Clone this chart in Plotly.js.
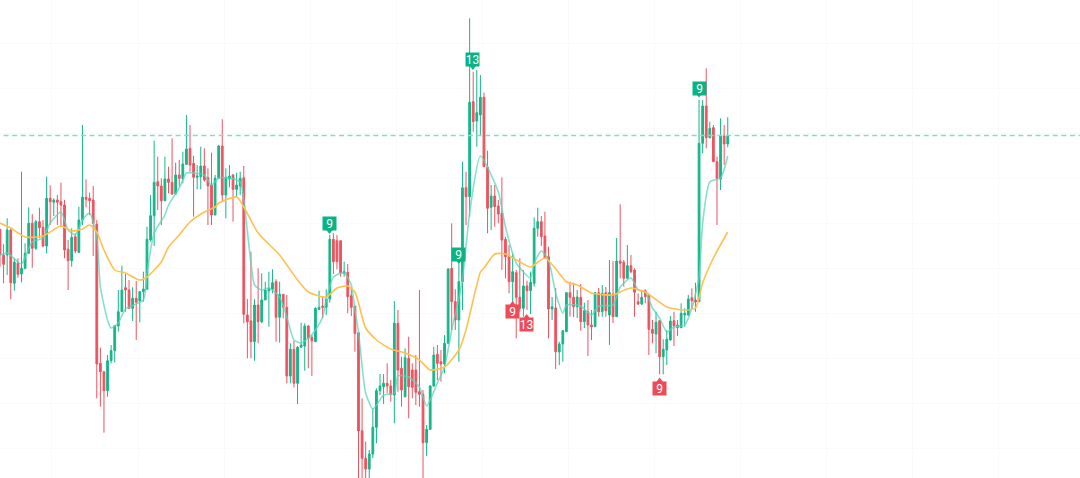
<!DOCTYPE html>
<html>
<head>
<meta charset="utf-8">
<script src="https://cdn.plot.ly/plotly-3.0.1.min.js"></script>
<style>
html, body { margin: 0; padding: 0; background: #fff; }
#chart { width: 1080px; height: 478px; }
</style>
</head>
<body>
<div id="chart"></div>
<script>
// candles, oldest first
const open = [
  248.7,223,223,248,194.7,214.7,204,209.7,224.7,254.7,
  229.7,256.3,250.7,232,279.7,275.7,278,276.3,273,228.7,
  217.3,241.3,225.7,258,280.7,279.7,278,253.7,114.7,106.3,
  87.3,117.3,127.3,152,166.3,190.3,188,169.7,179.7,177,
  186.3,189,238,262.3,296.3,292,277.3,299,295.7,284,
  303,299,313.7,329.7,314.7,300.7,301.3,312,300.3,293,
  263,299.7,332,283,299,303,288.7,292,300.3,163,
  157,136.3,173,156.3,178,187.3,188.7,196.3,160.7,183.7,
  170.7,102,128.7,94.7,130.7,132,152,140.7,136.3,168.7,
  172,170.7,179,238.7,237.3,237.3,204.7,205.7,182.3,172,
  145.3,47.3,19.7,9,24,50.7,87.3,91.3,94.7,92,
  83,154.7,109.7,81.3,119.7,108,108,86.3,83.7,35.3,
  48.7,92,123.7,116.3,114,134.7,209.7,176.3,158,196.3,
  290.3,281.3,376.3,357,363,380.7,310.7,270.7,282,272,
  264.7,238.7,221.3,196.3,205.3,180.7,169.7,192,187.3,194.7,
  249.7,256.3,242,221.3,169,170,126,134,146.3,185.3,
  180.7,171.3,180.7,156.3,166.3,153,151.3,185.3,166.3,185.3,
  163,184,161.3,217,215.7,199.7,212.3,208,176.3,174,
  187.3,183,148.7,144,157.3,121.3,128,138,157.3,153,
  150.3,163,163,180.3,178,176.3,334.7,372,340.3,350.3,
  316.3,299,342,334
];
const close = [
  223,213.7,248,195.3,215.7,203.7,209.7,224.7,254.7,229.7,
  256.3,250.3,232,279.7,276.3,278,275.7,273,228,217.3,
  240.7,227,258,280.7,278.7,277.3,254.7,114,106.3,87.3,
  117.3,127.3,152.3,166.3,188,188,169.7,179.7,175.7,186.3,
  189,238.7,262.3,295.7,292,277.3,299,295.7,284,303,
  299.7,314,329,313,300.7,302,312,298,292,263,
  299.7,332,283,300.7,302,288.7,293,299.7,163.7,156.3,
  136.3,173,156.3,178,188,189.7,195.3,160.7,183.7,170.7,
  102,128.7,94.7,130.7,133,152,139.7,137.3,169.7,170.7,
  170.7,179,238.7,216.3,216.3,205.3,206.3,181.3,170.7,144.7,
  47,19.7,9,24,50.7,87.3,92,94.7,92,83.7,
  154.7,108,88,120.3,91.3,90.7,85.7,83.7,35.3,48.7,
  92,123,114.7,114,134.7,209,176.3,158,196.3,290.3,
  281.3,375.7,356.3,365.3,380.7,311.3,269.7,282,271.3,264,
  238,221.3,196.3,206.3,180.7,169.7,192,187.3,195.7,249.7,
  256.3,241.3,219.7,169,171.3,126.3,134,147.3,185.3,180.7,
  171.3,181,156.3,167.3,153,151.3,185.3,166.3,184.7,167.3,
  185.3,161.3,217,214.7,199.7,212.3,206.3,185.7,174,180.7,
  181.3,148.7,144.7,155.7,121.3,128.7,138.7,157,152.3,150.3,
  164.7,164.7,179,177.3,176,334.7,372,340.3,349.7,316.3,
  299.7,342,334,342
];
const high = [
  248.7,233.7,259.7,250.7,219.7,219.7,306.3,234.7,270.7,264,
  258,270.3,258,301.3,292.7,279.7,283,295.3,278,238,
  249.7,244.7,271.3,353,298.7,285.3,292,258,130.3,106.3,
  123,133,153,188,212.3,204,198,190.7,197,187,
  206.3,251.3,283,337.3,321.3,299.7,321.3,311.3,339.7,315.3,
  318,326.3,363,353,322.3,313,331.3,329.7,309.7,325.3,
  303,333,358.7,309.7,313,304,305.3,306.3,312,179,
  226.3,178.7,209.7,204.7,196.3,206.3,208.7,198.7,196.3,183.7,
  183,134.7,137.3,132,155.3,154.7,153,143,170.7,187.3,
  181.3,188.7,243,244.7,243,237.3,216.3,214,189.7,172,
  145.3,79.7,36.3,28,70,89.7,104,104,114.7,98,
  177,168,121.3,129.7,141.3,114.7,123,188,88,53,
  93,131.3,133,128,143,209.7,254.7,188.7,214.7,316.3,
  306.3,459.7,406.3,408,403,385.3,327.3,293,293,278,
  300.7,241.3,233,224.7,208,219.7,208,197.3,206.3,260.7,
  270.3,262,266.3,231.3,181,190,136.3,147.3,186,196.3,
  195.3,188,194,175.3,178,168,186,190,193,191,
  218,217,240,273.7,218,233,223,209.7,184.7,188,
  188.7,184.7,158,166.3,158,138.7,148,162,166.3,158,
  174.7,169.7,183,189.7,195.3,378,378,409.7,356.3,353,
  321.3,359.7,353,360.7
];
const low = [
  211.3,194.7,203,178.7,187.3,200.3,195.7,208.7,224.7,210.3,
  228,239.7,230.7,224.7,253,262,253,251.3,219.7,188,
  211.3,224.7,224.7,253,270.7,263,222,79.7,71.3,45.3,
  81.3,114.7,115.7,146.3,166.3,166.3,169,157,138,155.7,
  176.3,188,236.3,232,268,253,284.7,284.7,283,283.5,
  291.3,294.7,313,306.3,261.3,288.7,288.7,296.3,253,253,
  263,299.7,276.3,259.7,290.7,256.3,281.3,283,154.7,119.7,
  119.7,117.3,134.7,154.7,178,151.3,184.7,136.3,135.3,159.7,
  94.7,94.7,90.7,74,130.7,107.3,109.7,102,136.3,168,
  159.7,163,175.3,204,208.7,201.3,201.3,164.7,162,126.3,
  -2,-2,-2,-2,20,34.7,83,74,84.7,76.3,
  54.7,86.3,71.3,80.7,59.7,79.7,73,71.3,-2,22,
  48,91.3,98,96.3,104.7,134.7,148,148,116.3,168,
  253,261.3,346.3,331.3,342,311.3,244.7,248,251.3,254.7,
  208,199.7,184.7,174.7,139.7,166.3,161.3,168,164,191.3,
  241.3,232,219.7,139.7,158,109,113,116.3,146.3,161.3,
  161,160,147.3,150,122,138,151.3,161.3,161.3,161.3,
  133,155,161,199.7,191.3,199,204.7,161.3,173,173,
  174.7,123,134.7,124.7,103.7,103.7,113,137.3,132,142,
  150.3,151.3,162,168,166.3,176.3,324.7,329.7,339.7,316.3,
  253,288,313,330.7
];
const candleIndex = open.map((_, i) => i);

const fastX = [0,2,6,7,9,12,14,17,19,21,23,25,27,28,30,31,33,35,40,41,43,46,47,50,52,54,57,59,61,64,67,68,70,71,73,75,78,80,82,84,86,88,90,91,93,96,98,99,100,102,104,106,107,110,111,114,117,119,122,124,126,128,129,131,134,139,141,144,148,149,151,153,155,157,158,162,165,167,171,173,176,178,180,182,184,186,188,191,193,195,196,198,201,203];
const fastY = [223,225,214,221,236,240,255,266,248,243,258,265,241,191,158,150,155,169,178,205,245,263,273,290,305,305,303,293,300,300,296,278,215,193,188,190,181,161,138,135,140,148,161,178,201,205,193,168,146,85,69,78,83,85,102,101,91,72,95,111,148,180,198,265,322,286,251,215,200,215,227,218,185,165,173,172,163,172,173,191,200,188,186,170,160,146,151,153,170,201,255,296,300,322];
const slowX = [0,3,7,12,17,20,23,25,27,29,32,35,39,41,45,47,50,53,57,60,61,66,68,72,78,83,86,91,94,97,99,100,102,105,109,113,117,120,124,128,130,134,135,138,141,145,148,152,157,158,161,165,171,173,176,180,186,191,194,196,199,203];
const slowY = [255,250,241,242,252,247,249,253,246,228,208,205,198,201,216,231,243,256,266,271,275,281,271,245,223,198,186,181,190,192,186,175,150,138,129,125,118,108,111,128,148,206,210,224,224,216,211,220,200,196,193,185,183,186,190,186,171,168,170,195,220,246];

// last price line
const lastPrice = 342.5;

// sequence count flags
const flagText = ['9', '13', '9', '9', '9', '13', '9'];
const flagX = [91.9, 131.9, 128, 195, 143, 146.9, 184];
const flagY = [255, 418.5, 224, 390, 167, 154, 90];
const flagColor = ['#08b384', '#08b384', '#08b384', '#08b384', '#ec4b58', '#ec4b58', '#ec4b58'];
const pinUpX = [91.9, 131.9, 128, 195];
const pinUpY = [247, 411, 217, 383.5];
const pinDownX = [143, 146.9, 184];
const pinDownY = [174, 161, 97.5];

const GREEN = '#08b384';
const RED = '#ec4b58';

const traces = [
  {
    type: 'candlestick',
    x: candleIndex,
    open: open,
    high: high,
    low: low,
    close: close,
    whiskerwidth: 0,
    width: 0.66,
    increasing: { line: { color: GREEN, width: 1 }, fillcolor: GREEN },
    decreasing: { line: { color: RED, width: 1 }, fillcolor: RED },
    opacity: 0.95,
    hoverinfo: 'skip'
  },
  {
    type: 'scatter', mode: 'lines', x: fastX, y: fastY,
    line: { color: 'rgba(90,215,185,0.75)', width: 1.6, shape: 'spline', smoothing: 0.6 },
    hoverinfo: 'skip'
  },
  {
    type: 'scatter', mode: 'lines', x: slowX, y: slowY,
    line: { color: '#ffc04f', width: 1.6, shape: 'spline', smoothing: 0.6 },
    hoverinfo: 'skip'
  },
  {
    type: 'scatter', mode: 'lines', x: [1, 302], y: [lastPrice, lastPrice],
    line: { color: '#84dcc4', width: 1.3, dash: '5px,3.6px' },
    hoverinfo: 'skip'
  },
  {
    type: 'scatter', mode: 'markers', x: pinUpX, y: pinUpY,
    marker: { symbol: 'triangle-down', size: 6, color: GREEN },
    hoverinfo: 'skip'
  },
  {
    type: 'scatter', mode: 'markers', x: pinDownX, y: pinDownY,
    marker: { symbol: 'triangle-up', size: 6, color: RED },
    hoverinfo: 'skip'
  }
];

const annotations = flagText.map((t, i) => ({
  x: flagX[i], y: flagY[i], text: t, showarrow: false,
  font: { family: 'Roboto, sans-serif', size: 12, color: '#fff' },
  bgcolor: flagColor[i], width: 13, height: 13, borderpad: 0,
  xanchor: 'center', yanchor: 'middle'
}));

const layout = {
  width: 1080,
  height: 478,
  margin: { l: 0, r: 0, t: 0, b: 0 },
  paper_bgcolor: '#fff',
  plot_bgcolor: '#fff',
  showlegend: false,
  annotations: annotations,
  xaxis: {
    type: 'linear',
    range: [0, 301.26],
    tick0: 14.5,
    dtick: 24,
    showticklabels: false,
    ticks: '',
    gridcolor: '#fafafa',
    zeroline: false,
    showline: false,
    rangeslider: { visible: false }
  },
  yaxis: {
    range: [0, 478],
    tick0: 30,
    dtick: 45,
    showticklabels: false,
    ticks: '',
    gridcolor: '#fafafa',
    zeroline: false,
    showline: false
  }
};

Plotly.newPlot('chart', traces, layout, { displayModeBar: false, staticPlot: true });
</script>
</body>
</html>
